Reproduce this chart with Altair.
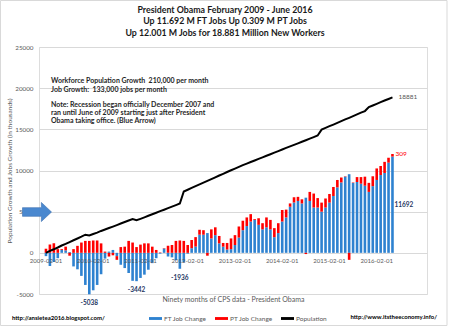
import altair as alt
import pandas as pd

# ---------------- data (thousands, cumulative since Feb 2009) ----------------
ft_change = [-400, -1600, -1100, -650, 350, 300, 100, -1650, -2000, -2800,
             -3900, -5038, -4550, -3900, -2600, -700, 150, 350, -400, -1450,
             -1850, -2450, -3400, -3442, -3050, -2650, -2050, -1250, -650, -100,
             520, -450, -550, -900, -1936, -1150, -100, 560, 760, 2200,
             2200, 2400, 1750, 2150, 1150, 750, 400, 450, 950, 1850,
             2750, 3250, 3800, 4000, 3400, 2850, 3100, 2850, 1900, 2400,
             3800, 4300, 5600, 6100, 6300, 6000, 6700, 6300, 5500, 5500,
             5000, 5500, 6100, 6900, 7950, 8550, 9250, 9550, 8500, 8600,
             8400, 8150, 7400, 8100, 8850, 9450, 9700, 10950, 11692]

pt_change = [500, 1000, 1150, 450, 100, 450, -350, 450, 850, 1250,
             1450, 1450, 1500, 1500, 1150, 150, -450, -300, -450, 700,
             750, 1450, 1250, 700, 1000, 1150, 1150, 750, 350, 50,
             50, 850, 950, 1450, 1500, 1450, 950, 1000, 1150, 600,
             550, -350, 1100, 950, 900, 450, 800, 1300, 1200, 1350,
             1150, 1050, 900, 100, 800, 750, 1200, 1150, 1100, 1200,
             1400, 950, 400, 650, 500, 500, -150, 1100, 1700, 1150,
             1100, 1100, 1050, 1100, 900, 600, 50, -850, 50, 600,
             800, 1100, 1100, 1200, 1400, 1100, 1350, 600, 309]

population = [0, 240, 430, 650, 890, 1080, 1310, 1530, 1740, 1960,
              2200, 2110, 2290, 2450, 2660, 2830, 3010, 3190, 3370, 3560,
              3740, 3920, 4100, 3960, 4130, 4310, 4500, 4690, 4870, 5060,
              5240, 5430, 5610, 5800, 5990, 7450, 7660, 7880, 8100, 8310,
              8520, 8740, 8950, 9170, 9390, 9600, 9820, 10030, 10230, 10440,
              10650, 10840, 11030, 11220, 11410, 11600, 11790, 11980, 12170, 12360,
              12550, 12740, 12930, 13110, 13300, 13490, 13680, 13870, 14060, 14250,
              14970, 15170, 15380, 15580, 15790, 15990, 16200, 16400, 16610, 16810,
              17020, 17220, 17700, 17900, 18100, 18300, 18500, 18690, 18881]

tick_labels = ["2009-02-01", "2010-02-01", "2011-02-01", "2012-02-01",
               "2013-02-01", "2014-02-01", "2015-02-01", "2016-02-01"]
series_names = ["FT Job Change", "PT Job Change", "Population"]
callout_months = ["2010-01-01", "2011-01-01", "2011-12-01"]

title_lines = ["President Obama February 2009 - June 2016",
               "Up 11.692 M FT Jobs Up 0.309 M PT Jobs",
               "Up 12.001 M Jobs for 18.881 Million New Workers"]
note_lines_1 = ["Workforce Population Growth\u00a0\u00a0210,000 per month",
                "Job Growth:\u00a0\u00a0133,000 jobs per month"]
note_lines_2 = ["Note: Recession began officially December 2007 and",
                "ran until June of 2009 starting just after President",
                "Obama taking office. (Blue Arrow)"]

# ---------------- tables ----------------
n = len(ft_change)
months = pd.date_range("2009-02-01", periods=n, freq="MS").strftime("%Y-%m-%d").tolist()
idx = list(range(n))

bars = pd.DataFrame({
    "i": idx + idx,
    "series": [series_names[0]] * n + [series_names[1]] * n,
    "value": ft_change + pt_change,
    "ord": [0] * n + [1] * n,
})
line_df = pd.DataFrame({"i": idx, "pop": population})
ticks_df = pd.DataFrame({"i": [months.index(t) for t in tick_labels], "label": tick_labels, "zero": 0})
callouts = pd.DataFrame({"i": [months.index(m) for m in callout_months],
                         "v": [ft_change[months.index(m)] for m in callout_months]})
last = pd.DataFrame({"i": [n - 1], "ft": [ft_change[-1]], "pt": [pt_change[-1]],
                     "pop": [population[-1]]})
dummy = pd.DataFrame({"d": [0]})

FONT = "Lato"
GRAY = "#595959"
NAVY = "#1F3864"

x_scale = alt.Scale(domain=[-0.5, 95.5], nice=False, zero=False)
y_scale = alt.Scale(domain=[-5000, 25000], nice=False)
color_scale = alt.Scale(domain=series_names, range=["#2E82D0", "#FF0000", "#000000"])

x_main = alt.X("i:Q", scale=x_scale,
               axis=alt.Axis(title="Ninety months of CPS data - President Obama",
                             labels=False, ticks=False, domain=False, grid=False,
                             titleFont=FONT, titleFontSize=7, titleFontWeight="normal",
                             titleColor=GRAY, titlePadding=1))
y_main = alt.Y("value:Q", stack="zero", scale=y_scale,
               axis=alt.Axis(values=[-5000, 0, 5000, 10000, 15000, 20000, 25000],
                             labelExpr="'' + datum.value",
                             title="Population Growth and Jobs Growth (in thousands)",
                             ticks=False, domain=False, grid=True, gridColor="#D9D9D9",
                             gridWidth=1, labelFont=FONT, labelFontSize=6.3, labelColor=GRAY,
                             labelPadding=6, titleFont=FONT, titleFontSize=6.5,
                             titleFontWeight="normal", titleColor=GRAY, titlePadding=2))

bar_layer = alt.Chart(bars).mark_bar(size=2.6).encode(
    x=x_main,
    y=y_main,
    color=alt.Color("series:N", scale=color_scale,
                    legend=alt.Legend(title=None, orient="none", direction="horizontal",
                                      legendX=110, legendY=265,
                                      symbolType="M -1 -0.22 L 1 -0.22 L 1 0.22 L -1 0.22 Z",
                                      symbolSize=169, symbolStrokeWidth=0,
                                      labelFont=FONT, labelFontSize=6.5, labelColor=GRAY,
                                      labelOffset=2, columnPadding=8)),
    order=alt.Order("ord:Q"),
)

line_layer = alt.Chart(line_df).mark_line(color="black", strokeWidth=2).encode(
    x=alt.X("i:Q", scale=x_scale),
    y=alt.Y("pop:Q", scale=y_scale),
)

date_text = alt.Chart(ticks_df).mark_text(font=FONT, fontSize=6, color=GRAY, dy=8).encode(
    x=alt.X("i:Q", scale=x_scale),
    y=alt.Y("zero:Q", scale=y_scale),
    text="label:N",
)

callout_text = alt.Chart(callouts).transform_calculate(lbl="'' + datum.v").mark_text(
    font=FONT, fontSize=6.5, fontWeight="bold", color=NAVY, dy=9).encode(
    x=alt.X("i:Q", scale=x_scale),
    y=alt.Y("v:Q", scale=y_scale),
    text="lbl:N",
)

pop_label = alt.Chart(last).transform_calculate(lbl="'' + datum.pop").mark_text(
    font=FONT, fontSize=6.5, color=GRAY, align="left", dx=6).encode(
    x=alt.X("i:Q", scale=x_scale), y=alt.Y("pop:Q", scale=y_scale), text="lbl:N")

pt_label = alt.Chart(last).transform_calculate(top="datum.ft + datum.pt",
                                               lbl="'' + datum.pt").mark_text(
    font=FONT, fontSize=6.5, color="#FF0000", align="left", dx=3).encode(
    x=alt.X("i:Q", scale=x_scale), y=alt.Y("top:Q", scale=y_scale), text="lbl:N")

ft_label = alt.Chart(last).transform_calculate(mid="datum.ft / 2",
                                               lbl="'' + datum.ft").mark_text(
    font=FONT, fontSize=6.5, fontWeight="bold", color=NAVY, align="left", dx=2).encode(
    x=alt.X("i:Q", scale=x_scale), y=alt.Y("mid:Q", scale=y_scale), text="lbl:N")


def text_block(lines, x, y, lh, size, align="left", weight="bold", color="#262626"):
    return alt.Chart(dummy).mark_text(font=FONT, fontSize=size, fontWeight=weight, color=color,
                                      align=align, baseline="top", lineHeight=lh).encode(
        x=alt.value(x), y=alt.value(y), text=alt.value(lines))


title_block = text_block(title_lines, 186, -41, 11.3, 8.8, align="center", color="#1A1A1A")
note1 = text_block(note_lines_1, 12, 29.5, 9, 7)
note2 = text_block(note_lines_2, 12, 53.5, 8.2, 7)

arrow = alt.Chart(dummy).mark_point(
    shape="M -1 -0.3 L 0.3 -0.3 L 0.3 -0.66 L 1 0 L 0.3 0.66 L 0.3 0.3 L -1 0.3 Z",
    size=841, filled=True, fill="#4A88CF", stroke="#3A6FAF", strokeWidth=0.6, opacity=1,
).encode(x=alt.value(-2), y=alt.value(165))

src_left = alt.Chart(dummy).mark_text(font=FONT, fontSize=6, fontWeight="bold", color="#000000",
                                      align="left", baseline="middle").encode(
    x=alt.value(-27), y=alt.value(271), text=alt.value("http://ansietea2016.blogspot.com/"))
src_right = alt.Chart(dummy).mark_text(font=FONT, fontSize=6, fontWeight="bold", color="#000000",
                                       align="right", baseline="middle").encode(
    x=alt.value(398), y=alt.value(270), text=alt.value("http://www.itstheeconomy.info/"))

frame = alt.Chart(dummy).mark_rect(fill=None, stroke="#D9D9D9", strokeWidth=1).encode(
    x=alt.value(-38.5), x2=alt.value(408), y=alt.value(-46.5), y2=alt.value(278.5))

chart = alt.layer(
    frame, bar_layer, line_layer, date_text, callout_text, pop_label, pt_label, ft_label,
    title_block, note1, note2, arrow, src_left, src_right,
).properties(
    width=388, height=247,
    autosize=alt.AutoSizeParams(type="none"),
    padding={"left": 39, "top": 47, "right": 23, "bottom": 33},
).configure_view(stroke=None).configure(background="white")

chart.save("out.html", embed_options={"renderer": "svg", "actions": False})
